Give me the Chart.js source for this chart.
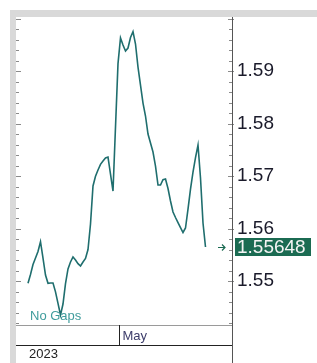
<!DOCTYPE html>
<html>
<head>
<meta charset="utf-8">
<script src="https://cdn.jsdelivr.net/npm/chart.js@4/dist/chart.umd.min.js"></script>
<style>
html,body{margin:0;padding:0;background:#fff;overflow:hidden}
#wrap{position:absolute;left:0;top:0;width:317px;height:363px}
</style>
</head>
<body>
<div id="wrap"><canvas id="c" width="317" height="363"></canvas></div>
<script>
// ---- data ----
const values = [
 1.54956,1.55124,1.55314,1.55438,1.55562,1.55749,1.55438,1.55114,1.54956,1.54962,
 1.54962,1.54794,1.54575,1.54352,1.54562,1.54950,1.55229,1.55362,1.55457,1.55400,
 1.55330,1.55286,1.55362,1.55429,1.55600,1.56086,1.56810,1.56994,1.57114,1.57223,
 1.57286,1.57343,1.57362,1.57038,1.56714,1.57933,1.59141,1.59629,1.59495,1.59381,
 1.59438,1.59638,1.59749,1.59514,1.59076,1.58733,1.58390,1.58143,1.57800,1.57629,
 1.57457,1.57190,1.56829,1.56829,1.56930,1.56943,1.56762,1.56524,1.56314,1.56210,
 1.56112,1.56019,1.55924,1.56010,1.56371,1.56752,1.57076,1.57352,1.57590,1.56962,
 1.56105,1.55648
];
const periods = values.map((v, i) => i);          // sequential periods (no gaps)
const monthBreaks = [{ label: 'May', at: 36.4 }];  // month boundary position in periods
const yearLabel = '2023';
const yTickLabels = [1.55, 1.56, 1.57, 1.58, 1.59];
const lastValue = 1.55648;
const caption = 'No Gaps';

const points = periods.map((p, i) => ({ x: p, y: values[i] }));

const FONT = '"Liberation Sans", Arial, sans-serif';

const decor = {
  id: 'decor',
  beforeDraw(chart) {
    const { ctx, chartArea: a } = chart;
    ctx.save();
    // grey frame
    ctx.fillStyle = '#d9d9d9';
    ctx.fillRect(10, 10, 317 - 10, a.top - 10);
    ctx.fillRect(10, 10, a.left - 10, 363 - 10);
    ctx.restore();
  },
  afterDraw(chart) {
    const { ctx, chartArea: a, scales } = chart;
    const y = scales.y, x = scales.x;
    ctx.save();
    // minor / major ticks on both edges
    ctx.strokeStyle = '#8a8a8a';
    ctx.lineWidth = 1;
    for (let k = 0; k <= 40; k++) {
      const v = 1.52 + k * 0.002;
      if (v < y.min || v > y.max) continue;
      const py = Math.round(y.getPixelForValue(v)) + 0.5;
      const major = Math.abs((v * 100) - Math.round(v * 100)) < 1e-6;
      ctx.beginPath();
      ctx.moveTo(a.left, py); ctx.lineTo(a.left + (major ? 5 : 3), py);
      ctx.moveTo(a.right - (major ? 4 : 3), py); ctx.lineTo(a.right + (major ? 2 : 0), py);
      ctx.stroke();
    }
    // right axis line
    ctx.strokeStyle = '#555';
    ctx.beginPath();
    ctx.moveTo(a.right + 0.5, a.top); ctx.lineTo(a.right + 0.5, 363);
    ctx.stroke();
    // bottom of plot
    ctx.strokeStyle = '#9a9a9a';
    ctx.beginPath();
    ctx.moveTo(a.left, a.bottom + 0.5); ctx.lineTo(a.right, a.bottom + 0.5);
    ctx.stroke();
    // time band
    const bandBottom = a.bottom + 20;
    ctx.strokeStyle = '#222';
    ctx.beginPath();
    ctx.moveTo(a.left, bandBottom + 0.5); ctx.lineTo(a.right, bandBottom + 0.5);
    ctx.stroke();
    ctx.font = '13px ' + FONT;
    ctx.textBaseline = 'middle';
    ctx.textAlign = 'left';
    monthBreaks.forEach(m => {
      const px = Math.round(x.getPixelForValue(m.at)) + 0.5;
      ctx.strokeStyle = '#222';
      ctx.beginPath();
      ctx.moveTo(px, a.bottom); ctx.lineTo(px, bandBottom);
      ctx.stroke();
      ctx.fillStyle = '#3c3c6a';
      ctx.fillText(m.label, px + 3, a.bottom + 11);
    });
    ctx.fillStyle = '#222';
    ctx.fillText(yearLabel, a.left + 13, bandBottom + 9);
    // caption
    ctx.fillStyle = '#3f9c9c';
    ctx.font = '13px ' + FONT;
    ctx.fillText(caption, a.left + 14, a.bottom - 9);
    // last value box
    const ly = y.getPixelForValue(lastValue);
    ctx.fillStyle = '#1b6b52';
    ctx.fillRect(a.right + 3, Math.round(ly) - 9, 76, 18);
    ctx.fillStyle = '#f4f4f4';
    ctx.font = '19px ' + FONT;
    ctx.fillText(lastValue.toFixed(5), a.right + 5, ly + 1);
    // arrow
    ctx.strokeStyle = '#1b6b52';
    ctx.lineWidth = 1.2;
    const ax = a.right - 14;
    ctx.beginPath();
    ctx.moveTo(ax, ly + 0.5); ctx.lineTo(ax + 7, ly + 0.5);
    ctx.moveTo(ax + 4, ly - 2.5); ctx.lineTo(ax + 7, ly + 0.5); ctx.lineTo(ax + 4, ly + 3.5);
    ctx.stroke();
    ctx.restore();
  }
};

new Chart(document.getElementById('c'), {
  type: 'line',
  data: {
    datasets: [{
      data: points,
      borderColor: '#1f6e6e',
      borderWidth: 1.6,
      pointRadius: 0,
      tension: 0,
      fill: false
    }]
  },
  options: {
    responsive: false,
    animation: false,
    events: [],
    layout: { padding: { left: 16, top: 17, bottom: 38, right: 0 } },
    plugins: { legend: { display: false }, tooltip: { enabled: false } },
    scales: {
      x: {
        type: 'linear',
        display: false,
        min: -4.8,
        max: 81.6
      },
      y: {
        position: 'right',
        min: 1.54162,
        max: 1.60029,
        afterFit(s) { s.width = 85; },
        afterBuildTicks(s) { s.ticks = yTickLabels.map(v => ({ value: v })); },
        grid: { display: false, drawTicks: false },
        border: { display: false },
        ticks: {
          padding: 5,
          color: '#1a1a2a',
          font: { family: FONT, size: 19 },
          callback: v => Number(v).toFixed(2)
        }
      }
    }
  },
  plugins: [decor]
});
</script>
</body>
</html>
